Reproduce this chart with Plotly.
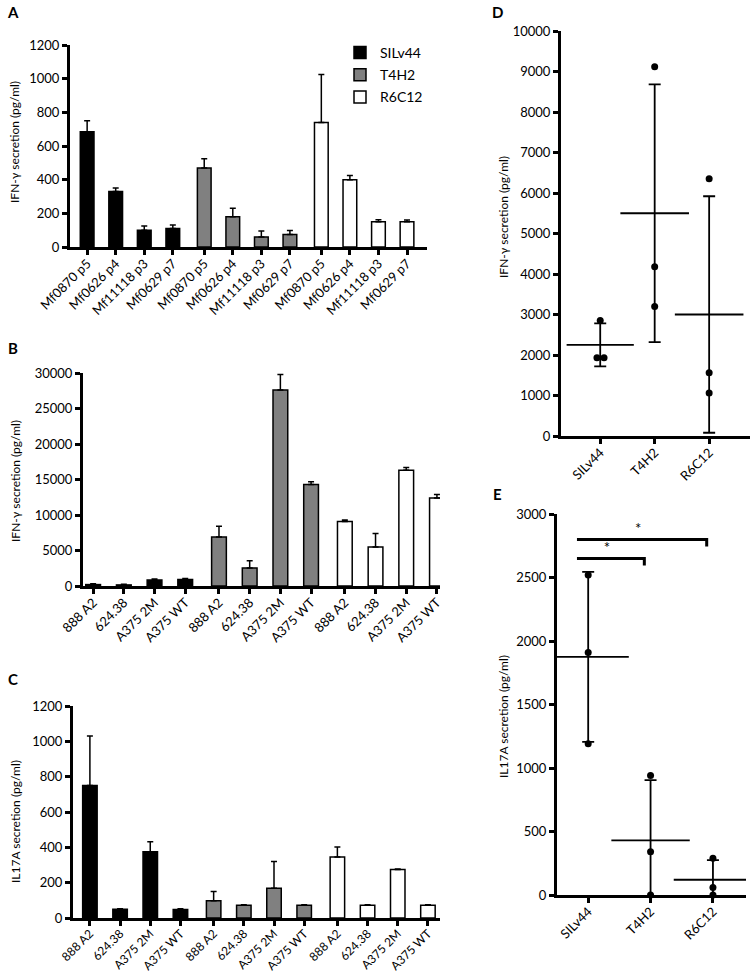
import plotly.graph_objects as go

W, H = 751, 976
FONT = "Lato"

clones = ["SILv44", "T4H2", "R6C12"]
clone_fill = ["black", "#808080", "white"]

# Panel A: IFN-gamma secretion vs macaque cell lines
targets_a = ["Mf0870 p5", "Mf0626 p4", "Mf11118 p3", "Mf0629 p7"]
a_silv44 = [685, 330, 100, 110]
a_silv44_err = [65, 20, 25, 20]
a_t4h2 = [470, 180, 60, 75]
a_t4h2_err = [55, 50, 35, 23]
a_r6c12 = [740, 400, 150, 150]
a_r6c12_err = [285, 25, 12, 10]

# Panel B: IFN-gamma secretion vs human cell lines
targets_bc = ["888 A2", "624.38", "A375 2M", "A375 WT"]
b_silv44 = [200, 150, 850, 900]
b_silv44_err = [100, 100, 150, 150]
b_t4h2 = [6900, 2550, 27600, 14300]
b_t4h2_err = [1500, 1000, 2200, 400]
b_r6c12 = [9100, 5500, 16300, 12400]
b_r6c12_err = [200, 1900, 400, 500]

# Panel C: IL17A secretion vs human cell lines
c_silv44 = [750, 50, 375, 48]
c_silv44_err = [280, 3, 57, 4]
c_t4h2 = [97, 72, 168, 72]
c_t4h2_err = [53, 3, 152, 3]
c_r6c12 = [345, 72, 275, 72]
c_r6c12_err = [57, 3, 3, 3]

# Panel D: IFN-gamma, individual donors
d_points = [[2850, 1930, 1930], [9120, 4180, 3200], [6350, 1560, 1060]]
d_mean = [2250, 5500, 3000]
d_sd = [530, 3180, 2920]

# Panel E: IL17A, individual donors
e_points = [[2520, 1910, 1190], [940, 340, 0], [290, 60, 0]]
e_mean = [1875, 430, 120]
e_sd = [670, 475, 155]
sig_pairs = [(0, 1), (0, 2)]
sig_y = [2650, 2800]
sig_label = ["*", "*"]

# small horizontal jitter of the dots (style only)
d_jitter = [[0.0, -0.06, 0.07], [0, 0, 0], [0, 0, 0]]


def px_x(p):
    return p / W


def px_y(p):
    return 1 - p / H


fig = go.Figure()

group_gap = 0.1


def add_bar_panel(xa, ya, groups, show_legend):
    for gi, (vals, errs) in enumerate(groups):
        xs = [gi * (4 + group_gap) + i for i in range(len(vals))]
        fig.add_trace(go.Bar(
            x=xs, y=vals, width=0.48, name=clones[gi],
            marker=dict(color=clone_fill[gi], line=dict(color="black", width=1.5)),
            error_y=dict(type="data", symmetric=False, array=errs,
                         arrayminus=[0] * len(errs), color="black",
                         thickness=1.5, width=3),
            xaxis=xa, yaxis=ya, showlegend=show_legend, legendgroup=clones[gi],
        ))


add_bar_panel("x", "y", [(a_silv44, a_silv44_err), (a_t4h2, a_t4h2_err), (a_r6c12, a_r6c12_err)], True)
add_bar_panel("x2", "y2", [(b_silv44, b_silv44_err), (b_t4h2, b_t4h2_err), (b_r6c12, b_r6c12_err)], False)
add_bar_panel("x3", "y3", [(c_silv44, c_silv44_err), (c_t4h2, c_t4h2_err), (c_r6c12, c_r6c12_err)], False)

bar_tickvals = [g * (4 + group_gap) + i for g in range(3) for i in range(4)]


def add_dot_panel(xa, ya, points, means, sds, jitter, mean_len):
    for ci in range(3):
        fig.add_trace(go.Scatter(
            x=[ci + j for j in jitter[ci]], y=points[ci], mode="markers",
            marker=dict(color="black", size=7), xaxis=xa, yaxis=ya,
            showlegend=False, cliponaxis=False,
        ))
        fig.add_trace(go.Scatter(
            x=[ci], y=[means[ci]], mode="markers",
            marker=dict(symbol="line-ew-open", size=mean_len[ci], color="black",
                        line=dict(color="black", width=1.8)),
            error_y=dict(type="data", array=[sds[ci]], color="black",
                         thickness=1.8, width=6),
            xaxis=xa, yaxis=ya, showlegend=False, cliponaxis=True,
        ))


add_dot_panel("x4", "y4", d_points, d_mean, d_sd, d_jitter, [48, 49, 49])
add_dot_panel("x5", "y5", e_points, e_mean, e_sd, [[0, 0, 0]] * 3, [58, 56, 56])

# significance brackets in panel E
for (a, b), yv, lab in zip(sig_pairs, sig_y, sig_label):
    x0, x1 = a - 0.18, b - 0.1
    fig.add_trace(go.Scatter(
        x=[x0, x1, x1], y=[yv, yv, yv - 55], mode="lines",
        line=dict(color="black", width=3), xaxis="x5", yaxis="y5",
        showlegend=False, cliponaxis=False,
    ))
    fig.add_trace(go.Scatter(
        x=[(x0 + x1) / 2 - 0.06], y=[yv + 75], mode="text", text=[lab],
        textfont=dict(size=15, color="black", family=FONT),
        xaxis="x5", yaxis="y5", showlegend=False, cliponaxis=False,
    ))

axis_common = dict(showline=True, linecolor="black", linewidth=3, ticks="outside",
                   tickwidth=2.5, ticklen=5, tickcolor="black", showgrid=False,
                   zeroline=False, automargin=False, tickformat="d",
                   tickfont=dict(size=13, color="black", family=FONT))
xcat_common = dict(tickangle=-45, ticklabelstandoff=-4)

# domains in pixels
dom = {
    "A": dict(x=(70, 427), y=(45, 247)),
    "B": dict(x=(83, 440), y=(373, 586)),
    "C": dict(x=(73, 440), y=(706, 918)),
    "D": dict(x=(561, 750), y=(31, 436)),
    "E": dict(x=(557, 746), y=(514, 895)),
}


def xdom(k):
    return [px_x(dom[k]["x"][0]), px_x(dom[k]["x"][1])]


def ydom(k):
    return [px_y(dom[k]["y"][1]), px_y(dom[k]["y"][0])]


fig.update_layout(
    template=None,
    xaxis=dict(axis_common, **xcat_common, domain=xdom("A"), anchor="y", range=[-0.6, 11.9],
               tickvals=bar_tickvals, ticktext=targets_a * 3),
    yaxis=dict(axis_common, domain=ydom("A"), anchor="x", range=[0, 1200], dtick=200),
    xaxis2=dict(axis_common, **xcat_common, domain=xdom("B"), anchor="y2", range=[-0.33, 11.3],
                tickvals=bar_tickvals, ticktext=targets_bc * 3),
    yaxis2=dict(axis_common, domain=ydom("B"), anchor="x2", range=[0, 30000], dtick=5000),
    xaxis3=dict(axis_common, **xcat_common, domain=xdom("C"), anchor="y3", range=[-0.56, 11.6],
                tickvals=bar_tickvals, ticktext=targets_bc * 3),
    yaxis3=dict(axis_common, domain=ydom("C"), anchor="x3", range=[0, 1200], dtick=200),
    xaxis4=dict(axis_common, **xcat_common, domain=xdom("D"), anchor="y4", range=[-0.72, 2.75],
                tickvals=[0, 1, 2], ticktext=clones),
    yaxis4=dict(axis_common, domain=ydom("D"), anchor="x4", range=[0, 10000], dtick=1000),
    xaxis5=dict(axis_common, **xcat_common, domain=xdom("E"), anchor="y5", range=[-0.5, 2.53],
                tickvals=[0, 1, 2], ticktext=clones),
    yaxis5=dict(axis_common, domain=ydom("E"), anchor="x5", range=[0, 3000], dtick=500),
    width=W, height=H, margin=dict(l=0, r=0, t=0, b=0, autoexpand=False),
    paper_bgcolor="white", plot_bgcolor="white",
    font=dict(family=FONT, color="black"),
    barmode="overlay",
    legend=dict(x=px_x(340), y=px_y(37), xanchor="left", yanchor="top",
                font=dict(size=14, color="black", family=FONT),
                tracegroupgap=1, bgcolor="rgba(0,0,0,0)"),
)
fig.update_layout(xaxis3_tickfont=dict(size=12, color="black", family=FONT))

# y-axis titles
ytitles = [
    ("IFN-γ secretion (pg/ml)", 15, 142),
    ("IFN-γ secretion (pg/ml)", 15, 481),
    ("IL17A secretion (pg/ml)", 15, 822),
    ("IFN-γ secretion (pg/ml)", 503, 217),
    ("IL17A secretion (pg/ml)", 503, 717),
]
for txt, xp, yp in ytitles:
    fig.add_annotation(x=px_x(xp), y=px_y(yp), xref="paper", yref="paper", text=txt,
                       textangle=-90, showarrow=False, xanchor="center", yanchor="middle",
                       font=dict(size=12, color="black", family=FONT))

# panel letters
letters = [("A", 13, 12), ("B", 13, 348), ("C", 13, 679), ("D", 497, 12), ("E", 497, 494)]
for txt, xp, yp in letters:
    fig.add_annotation(x=px_x(xp), y=px_y(yp), xref="paper", yref="paper",
                       text="<b>%s</b>" % txt, showarrow=False, xanchor="center",
                       yanchor="middle", font=dict(size=15, color="black", family=FONT))

fig.write_html("out.html", config={"displayModeBar": False},
               post_script="document.body.style.margin='0';document.body.style.overflow='hidden';")
